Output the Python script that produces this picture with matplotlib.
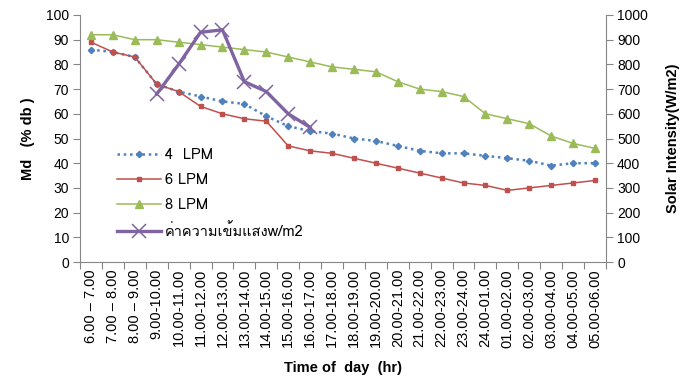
import matplotlib
matplotlib.use("Agg")
import matplotlib.pyplot as plt
from matplotlib import font_manager as fm
from matplotlib.ft2font import FT2Font
from matplotlib.ticker import FixedLocator, NullFormatter

# ---------------- data ----------------
categories = ["6.00 \u2013 7.00", "7.00 \u2013 8.00", "8.00 \u2013 9.00", "9.00-10.00",
              "10.00-11.00", "11.00-12.00", "12.00-13.00", "13.00-14.00", "14.00-15.00",
              "15.00-16.00", "16.00-17.00", "17.00-18.00", "18.00-19.00", "19.00-20.00",
              "20.00-21.00", "21.00-22.00", "22.00-23.00", "23.00-24.00", "24.00-01.00",
              "01.00-02.00", "02.00-03.00", "03.00-04.00", "04.00-05.00", "05.00-06.00"]
lpm4 = [86, 85, 83, 72, 69, 67, 65, 64, 59, 55, 53, 52, 50, 49, 47, 45, 44, 44, 43, 42, 41, 39, 40, 40]
lpm6 = [89, 85, 83, 72, 69, 63, 60, 58, 57, 47, 45, 44, 42, 40, 38, 36, 34, 32, 31, 29, 30, 31, 32, 33]
lpm8 = [92, 92, 90, 90, 89, 88, 87, 86, 85, 83, 81, 79, 78, 77, 73, 70, 69, 67, 60, 58, 56, 51, 48, 46]
solar_start = 3
solar = [680, 800, 930, 940, 730, 690, 600, 545]

left_ticks = list(range(0, 101, 10))
right_ticks = list(range(0, 1001, 100))

# ---------------- fonts ----------------
thai_font = None
for f in fm.fontManager.ttflist:
    try:
        ft = FT2Font(f.fname)
        if 0x0E04 in ft.get_charmap() and 0x0E21 in ft.get_charmap():
            thai_font = f.name
            break
    except Exception:
        pass

base = "Liberation Sans"
plt.rcParams['font.family'] = [base, 'DejaVu Sans']

txt = "#000000"
spine_c = "#868686"

fig = plt.figure(figsize=(6.94, 3.83), dpi=100)
ax = fig.add_axes([80/694, 1-262/383, (606-80)/694, (262-15)/383])
ax2 = ax.twinx()

x = list(range(len(categories)))
l1, = ax.plot(x, lpm4, color="#4F81BD", linestyle=(0, (1, 1.5)), lw=1.8,
              marker="D", markersize=3.2, label="4  LPM")
l2, = ax.plot(x, lpm6, color="#C0504D", lw=1.1, marker="s", markersize=3.2, label="6 LPM")
l3, = ax.plot(x, lpm8, color="#9BBB59", lw=1.1, marker="^", markersize=5.8, label="8 LPM")
xs = list(range(solar_start, solar_start + len(solar)))
l4, = ax2.plot(xs, solar, color="#8064A2", lw=2.4, marker="x", markersize=10.5,
               markeredgewidth=1.1, label="\u0e04\u0e48\u0e32\u0e04\u0e27\u0e32\u0e21\u0e40\u0e02\u0e49\u0e21\u0e41\u0e2a\u0e07w/m2")

ax.set_xlim(-0.5, len(categories) - 0.5)
ax.set_ylim(0, 100)
ax2.set_ylim(0, 1000)
ax.set_yticks(left_ticks)
ax2.set_yticks(right_ticks)

ax.xaxis.set_major_locator(FixedLocator([i - 0.5 for i in range(len(categories) + 1)]))
ax.xaxis.set_major_formatter(NullFormatter())
ax.set_xticks(x, minor=True)
ax.set_xticklabels(categories, minor=True, rotation=90, fontsize=10.5, color=txt)
ax.tick_params(axis='x', which='major', length=5, color=spine_c, direction='out')
ax.tick_params(axis='x', which='minor', length=0, pad=5)
ax.tick_params(axis='y', length=5, color=spine_c, labelsize=10, labelcolor=txt, pad=3)
ax2.tick_params(axis='y', length=5, color=spine_c, labelsize=10, labelcolor=txt, pad=3)

for a in (ax, ax2):
    a.spines['top'].set_visible(False)
    for s in ('left', 'right', 'bottom'):
        a.spines[s].set_color(spine_c)
ax2.spines['left'].set_visible(False)
ax2.spines['bottom'].set_visible(False)
ax.spines['right'].set_visible(False)

ax.set_ylabel("Md   (% db )", fontsize=10.5, fontweight='bold', color=txt, labelpad=8)
ax2.set_ylabel("Solar Intensity(W/m2)", fontsize=10.5, fontweight='bold', color=txt, labelpad=13)
ax.set_xlabel("Time of  day  (hr)", fontsize=10.5, fontweight='bold', color=txt, labelpad=10)

handles = [l1, l2, l3, l4]
leg = ax.legend(handles, [h.get_label() for h in handles], loc='upper left',
                bbox_to_anchor=(0.045, 0.515), frameon=False, fontsize=10.5,
                handlelength=3.0, labelspacing=0.75, handletextpad=0.3)
fams = [thai_font, base, 'DejaVu Sans'] if thai_font else [base, 'DejaVu Sans']
for t in leg.get_texts():
    t.set_family(fams)
    t.set_color(txt)

fig.savefig("out.png", dpi=100)
